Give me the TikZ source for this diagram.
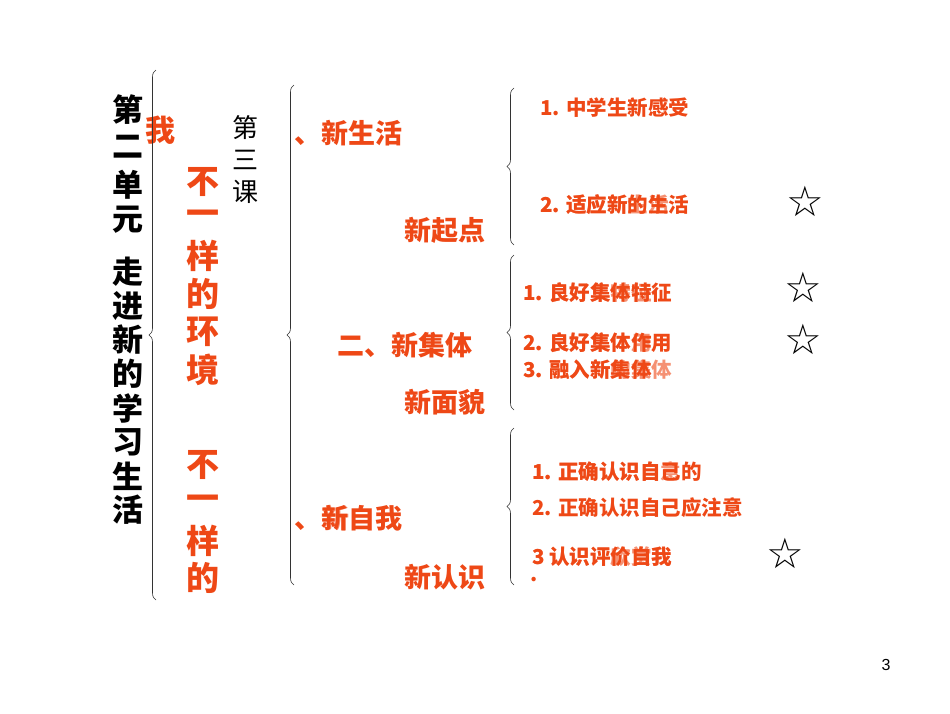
\documentclass[tikz,border=0pt]{standalone}
\usepackage{fontspec}
\setmainfont{Liberation Sans}
\newfontfamily\cjk{Noto Sans CJK SC}
\newfontfamily\djv{DejaVu Sans}
\usetikzlibrary{decorations.pathreplacing}
\definecolor{rd}{RGB}{238,72,22}
\tikzset{
  br/.style={draw=black!80,line width=0.6pt,decorate,decoration={brace,amplitude=7pt}},
  big/.style={inner sep=0pt,font=\cjk\bfseries\fontsize{31}{31}\selectfont},
  mid/.style={inner sep=0pt,text=rd,font=\cjk\bfseries\fontsize{27}{27}\selectfont},
  sml/.style={inner sep=0pt,anchor=west,text=rd,font=\cjk\bfseries\fontsize{20.5}{20.5}\selectfont},
  star/.style={inner sep=0pt,font=\djv\bfseries\fontsize{42}{42}\selectfont}
}
\begin{document}
\begin{tikzpicture}[x=1pt,y=-1pt]
\useasboundingbox (0,0) rectangle (950,713);
% left title column
\foreach \c/\y [count=\i] in {第/110,二/147,单/185,元/220,走/272,进/306,新/340,的/374,学/408,习/442,生/476,活/510}
  \node[big] (t\i) at (128,\y) {\c};
\node[big,text=rd,font=\cjk\bfseries\fontsize{30}{30}\selectfont] (wo) at (160,130) {我};
\foreach \c/\y [count=\i] in {不/182,一/218,样/256,的/294,环/332,境/370,不/465,一/503,样/541,的/578}
  \node[big,text=rd,font=\cjk\bfseries\fontsize{33}{33}\selectfont] (r\i) at (203,\y) {\c};
\foreach \c/\y [count=\i] in {第/128,三/160,课/192}
  \node[inner sep=0pt,font=\cjk\fontsize{26}{26}\selectfont] (k\i) at (245,\y) {\c};
% braces
\draw[br] (156,600) -- (156,70);
\draw[br] (294,585) -- (294,85);
\draw[br] (514,245) -- (514,88);
\draw[br] (514,410) -- (514,255);
\draw[br] (514,585) -- (514,428);
% middle
\node[mid,anchor=west] (m1) at (294,133) {、新生活};
\node[mid] (m2) at (445,230) {新起点};
\node[mid] (m3) at (405,345) {二、新集体};
\node[mid] (m4) at (445,402) {新面貌};
\node[mid,anchor=west] (m5) at (294,518) {、新自我};
\node[mid,anchor=west,opacity=0.6] (m5b) at (322,518) {新};
\node[mid] (m6) at (445,577) {新认识};
% right items
\node[sml] (a1) at (540,108) {1. 中学生新感受};
\node[sml] (a2) at (540,205) {2. 适应新的生活};
\node[sml,opacity=0.6] (a2b) at (540,205) {2. 适应新生活};
\node[sml] (b1) at (523,293) {1. 良好集体特征};
\node[sml,opacity=0.6] (b1b) at (523,293) {1. 良好集特征};
\node[sml] (b2) at (523,343) {2. 良好集体作用};
\node[sml,opacity=0.6] (b2b) at (523,343) {2. 良好集体用};
\node[sml] (b3) at (523,370) {3. 融入新集体};
\node[sml,opacity=0.6] (b3b) at (523,370) {3. 融入新的集体};
\node[sml] (c1) at (532,472) {1. 正确认识自己的};
\node[sml,opacity=0.6] (c1b) at (532,472) {1. 正确认识自意};
\node[sml] (c2) at (532,508) {2. 正确认识自己应注意};
\node[sml] (c3) at (532,557) {3 认识评价自我};
\node[sml,opacity=0.6] (c3b) at (532,557) {3 认识评欣赏我};
\node[sml] (c3d) at (530,580) {.};
% stars
\node[star] (s1) at (805,201) {☆};
\node[star] (s2) at (803,287) {☆};
\node[star] (s3) at (803,339) {☆};
\node[star] (s4) at (785,553) {☆};
\node[inner sep=0pt,font=\fontsize{16}{16}\selectfont] (pg) at (886,665) {3};
\end{tikzpicture}
\end{document}
